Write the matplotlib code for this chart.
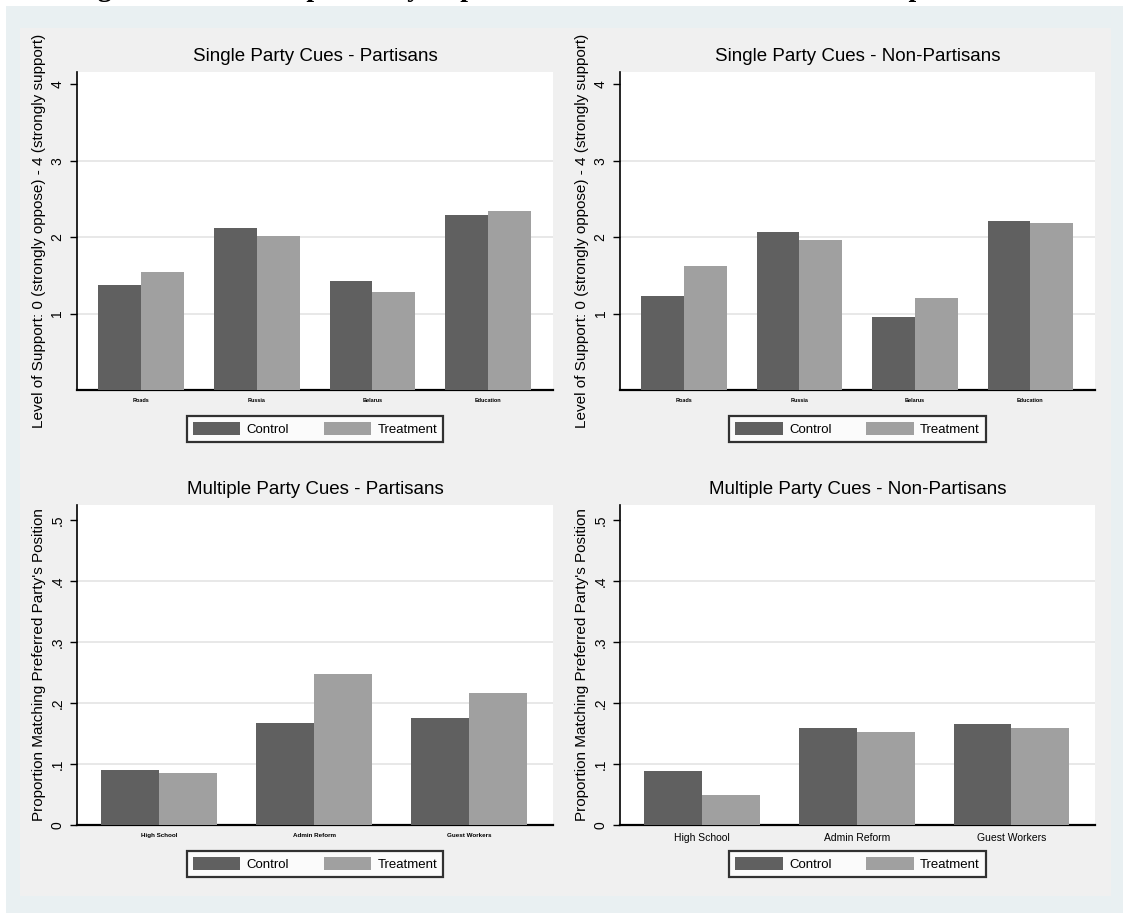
import matplotlib.pyplot as plt
from matplotlib.patches import Rectangle
import numpy as np

W, H = 1123, 913

single_issues = ["Roads", "Russia", "Belarus", "Education"]
multi_issues = ["High School", "Admin Reform", "Guest Workers"]

# single party cues, 0-4 support scale
sp_part_control = [1.37, 2.12, 1.42, 2.29]
sp_part_treat = [1.55, 2.01, 1.28, 2.34]
sp_nonpart_control = [1.23, 2.07, 0.95, 2.21]
sp_nonpart_treat = [1.62, 1.96, 1.21, 2.18]

# multiple party cues, proportion matching
mp_part_control = [0.090, 0.167, 0.175]
mp_part_treat = [0.085, 0.248, 0.216]
mp_nonpart_control = [0.088, 0.159, 0.165]
mp_nonpart_treat = [0.049, 0.152, 0.159]

top_ticks = [1, 2, 3, 4]
top_ticklabels = ["1", "2", "3", "4"]
bot_ticks = [0, 0.1, 0.2, 0.3, 0.4, 0.5]
bot_ticklabels = ["0", ".1", ".2", ".3", ".4", ".5"]

DARK = "#606060"
LIGHT = "#a0a0a0"

plt.rcParams['font.family'] = ['Liberation Sans', 'DejaVu Sans']

fig = plt.figure(figsize=(W / 100, H / 100), dpi=100)
fig.patch.set_facecolor("white")

# background frames
fig.add_artist(Rectangle((6 / W, 0), 1, 1 - 6 / H, transform=fig.transFigure,
                         facecolor="#e9f0f2", edgecolor="none", zorder=-10))
fig.add_artist(Rectangle((20 / W, 1 - 896 / H), (1111 - 20) / W, (896 - 28) / H,
                         transform=fig.transFigure, facecolor="#f0f0f0",
                         edgecolor="none", zorder=-9))

# page caption above the chart, cut off by the crop (only its bottom edge shows)
fig.text(0.497, 1 + 3.5 / H,
         "Figure 3: Mean Responses by Experimental Condition and Partisanship in Poland",
         family="Liberation Serif", fontweight="bold", fontsize=20,
         ha="center", va="baseline", zorder=-20)


def px_axes(left, top, right, bottom):
    return fig.add_axes([left / W, 1 - bottom / H, (right - left) / W, (bottom - top) / H])


def panel(ax, cats, ctrl, trt, title, ylabel, ylim, ticks, ticklabels, grid,
          xlim, width, xfs, leg_y):
    x = np.arange(len(cats))
    ax.bar(x - width / 2, ctrl, width, color=DARK, label="Control", zorder=3)
    ax.bar(x + width / 2, trt, width, color=LIGHT, label="Treatment", zorder=3)
    for g in grid:
        ax.axhline(g, color="#e4e4e4", lw=1.2, zorder=1)
    ax.set_xlim(*xlim)
    ax.set_ylim(*ylim)
    ax.set_xticks(x)
    ax.set_xticklabels(cats, fontsize=xfs, fontweight="bold" if xfs < 6 else "normal")
    ax.set_yticks(ticks)
    ax.set_yticklabels(ticklabels, rotation=90, va="center", fontsize=10)
    ax.tick_params(axis="x", length=0, pad=6)
    ax.tick_params(axis="y", length=5, width=1, pad=4)
    for s in ["top", "right"]:
        ax.spines[s].set_visible(False)
    ax.spines["left"].set_linewidth(1.2)
    ax.spines["bottom"].set_linewidth(1.6)
    ax.set_title(title, fontsize=13.5, pad=8)
    ax.set_ylabel(ylabel, fontsize=11, labelpad=3)
    leg = ax.legend(loc="upper center", bbox_to_anchor=(0.5, leg_y), ncol=2,
                    fontsize=9.5, handlelength=3.6, handleheight=1.15,
                    handletextpad=0.5, columnspacing=2.6, fancybox=False,
                    borderpad=0.45)
    leg.get_frame().set_edgecolor("black")
    leg.get_frame().set_linewidth(1.6)


ylab_top = "Level of Support: 0 (strongly oppose) - 4 (strongly support)"
ylab_bot = "Proportion Matching Preferred Party's Position"

ax1 = px_axes(77, 72, 553, 390)
panel(ax1, single_issues, sp_part_control, sp_part_treat,
      "Single Party Cues - Partisans", ylab_top, (0, 4.16), top_ticks,
      top_ticklabels, [1, 2, 3], (-0.553, 3.56), 0.37, 4, -0.062)

ax2 = px_axes(620, 72, 1095, 390)
panel(ax2, single_issues, sp_nonpart_control, sp_nonpart_treat,
      "Single Party Cues - Non-Partisans", ylab_top, (0, 4.16), top_ticks,
      top_ticklabels, [1, 2, 3], (-0.553, 3.56), 0.37, 4, -0.062)

ax3 = px_axes(77, 505, 553, 825)
panel(ax3, multi_issues, mp_part_control, mp_part_treat,
      "Multiple Party Cues - Partisans", ylab_bot, (0, 0.525), bot_ticks,
      bot_ticklabels, [0.1, 0.2, 0.3, 0.4], (-0.53, 2.54), 0.374, 4.5, -0.062)

ax4 = px_axes(620, 505, 1095, 825)
panel(ax4, multi_issues, mp_nonpart_control, mp_nonpart_treat,
      "Multiple Party Cues - Non-Partisans", ylab_bot, (0, 0.525), bot_ticks,
      bot_ticklabels, [0.1, 0.2, 0.3, 0.4], (-0.53, 2.54), 0.374, 7.5, -0.062)

fig.savefig("out.png", dpi=100)
